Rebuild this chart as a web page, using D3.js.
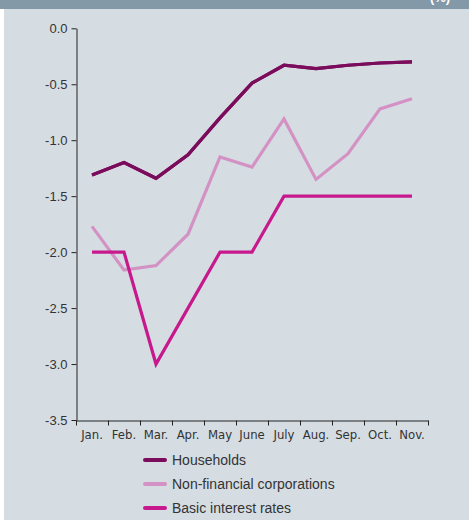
<!DOCTYPE html>
<html lang="en">
<head>
<meta charset="UTF-8">
<title>Interest rate changes</title>
<style>
  body { margin: 0; background: #ffffff; }
  svg { display: block; }
</style>
</head>
<body>
<div id="chart"></div>
<script src="https://d3js.org/d3.v7.min.js"></script>
<script>

// data
const months = ['Jan.', 'Feb.', 'Mar.', 'Apr.', 'May', 'June', 'July', 'Aug.', 'Sep.', 'Oct.', 'Nov.'];
const households = [-1.31, -1.20, -1.34, -1.13, -0.80, -0.49, -0.33, -0.36, -0.33, -0.31, -0.30];
const nonFinancial = [-1.77, -2.16, -2.12, -1.84, -1.15, -1.24, -0.81, -1.35, -1.12, -0.72, -0.63];
const basicRates = [-2.0, -2.0, -3.0, -2.5, -2.0, -2.0, -1.5, -1.5, -1.5, -1.5, -1.5];
const yTicks = [0, -0.5, -1.0, -1.5, -2.0, -2.5, -3.0, -3.5];

const series = [
  { name: 'Households', values: households, color: '#7b0c5c' },
  { name: 'Non-financial corporations', values: nonFinancial, color: '#d392c3' },
  { name: 'Basic interest rates', values: basicRates, color: '#c8188d' }
];

const W = 469, H = 520;

const svg = d3.select('#chart')
  .append('svg')
  .attr('width', W)
  .attr('height', H);

// panel + header strip
svg.append('rect')
  .attr('x', 4).attr('y', 0)
  .attr('width', W - 4).attr('height', H)
  .attr('fill', '#d5dde3');

svg.append('rect')
  .attr('x', 0).attr('y', 0)
  .attr('width', W).attr('height', 9)
  .attr('fill', '#8499a7');

svg.append('text')
  .attr('x', 440).attr('y', 2)
  .attr('text-anchor', 'middle')
  .attr('fill', '#ffffff')
  .style('font', 'bold 13px "Liberation Sans", Arial, sans-serif')
  .text('(%)');

// scales
const x = d3.scaleBand()
  .domain(months)
  .range([76, 428]);

const y = d3.scaleLinear()
  .domain([-3.5, 0])
  .range([420, 28.3]);

const fontY = '13px "Liberation Sans", Arial, sans-serif';
const fontX = '13px "Liberation Sans Narrow", "DejaVu Sans Condensed", Arial, sans-serif';

// y axis
const axeY = d3.axisLeft(y)
  .tickValues(yTicks)
  .tickSize(5)
  .tickSizeOuter(0)
  .tickPadding(4)
  .tickFormat(d => d.toFixed(1));

const gy = svg.append('g')
  .attr('transform', 'translate(76.5,0)')
  .call(axeY);
gy.selectAll('text').style('font', fontY).attr('fill', '#333');
gy.selectAll('line, path').attr('stroke', '#222');

// x axis
const axeX = d3.axisBottom(x)
  .tickSize(0)
  .tickSizeOuter(0)
  .tickPadding(9);

const gx = svg.append('g')
  .attr('transform', 'translate(0,420.5)')
  .call(axeX);
gx.selectAll('text').style('font', fontX).attr('fill', '#333');
gx.select('path').attr('stroke', '#222');

// band boundary ticks
const edges = months.map(m => x(m)).concat([x.range()[1]]);
gx.selectAll('.edge')
  .data(edges)
  .enter()
  .append('line')
  .attr('class', 'edge')
  .attr('x1', d => Math.round(d) + 0.5)
  .attr('x2', d => Math.round(d) + 0.5)
  .attr('y1', 0)
  .attr('y2', 5)
  .attr('stroke', '#222');

// lines
const line = d3.line()
  .x((d, i) => x(months[i]) + x.bandwidth() / 2)
  .y(d => y(d));

svg.selectAll('.serie')
  .data(series)
  .enter()
  .append('path')
  .attr('class', 'serie')
  .attr('fill', 'none')
  .attr('stroke', d => d.color)
  .attr('stroke-width', 3.2)
  .attr('stroke-linejoin', 'miter')
  .attr('d', d => line(d.values));

// redraw households on top
svg.append('path')
  .attr('fill', 'none')
  .attr('stroke', series[0].color)
  .attr('stroke-width', 3.2)
  .attr('d', line(households));

// legend
const legend = svg.selectAll('.legende')
  .data(series)
  .enter()
  .append('g')
  .attr('class', 'legende')
  .attr('transform', (d, i) => `translate(145, ${460 + i * 24})`);

legend.append('line')
  .attr('x1', 0).attr('x2', 20)
  .attr('y1', 0).attr('y2', 0)
  .attr('stroke', d => d.color)
  .attr('stroke-width', 4)
  .attr('stroke-linecap', 'round');

legend.append('text')
  .attr('x', 27)
  .attr('y', 5)
  .attr('fill', '#333')
  .style('font', '14px "Liberation Sans", Arial, sans-serif')
  .text(d => d.name);

</script>
</body>
</html>
